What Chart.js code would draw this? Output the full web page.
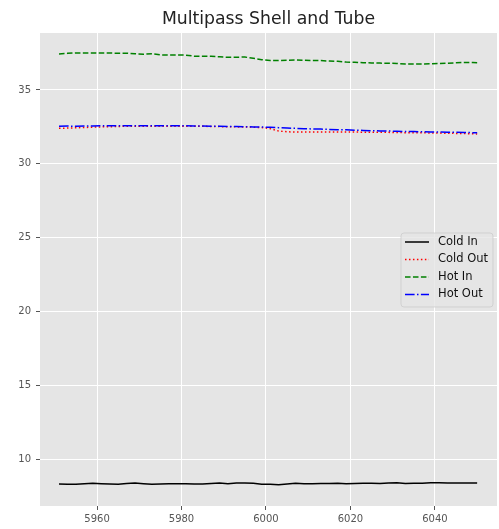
<!DOCTYPE html>
<html>
<head>
<meta charset="utf-8">
<script src="https://cdn.jsdelivr.net/npm/chart.js@4.4.0/dist/chart.umd.min.js"></script>
<style>
  html, body { margin: 0; padding: 0; background: #ffffff; }
  #c { display: block; }
</style>
</head>
<body>
<canvas id="c" width="499" height="529"></canvas>
<script>
const titleText = "Multipass Shell and Tube";
const seriesNames = ["Cold In", "Cold Out", "Hot In", "Hot Out"];
const xValues = [5951,5953,5955,5957,5959,5961,5963,5965,5967,5969,5971,5973,5975,5977,5979,5981,5983,5985,5987,5989,5991,5993,5995,5997,5999,6001,6003,6005,6007,6009,6011,6013,6015,6017,6019,6021,6023,6025,6027,6029,6031,6033,6035,6037,6039,6041,6043,6045,6047,6049,6050];
const coldIn = [8.31,8.30,8.29,8.33,8.36,8.33,8.31,8.30,8.34,8.37,8.33,8.30,8.31,8.32,8.33,8.33,8.31,8.31,8.35,8.37,8.33,8.37,8.38,8.36,8.30,8.29,8.26,8.31,8.36,8.33,8.33,8.35,8.34,8.36,8.33,8.35,8.36,8.36,8.34,8.38,8.40,8.35,8.36,8.36,8.39,8.40,8.37,8.37,8.37,8.38,8.37];
const coldOut = [32.40,32.42,32.44,32.46,32.48,32.50,32.51,32.53,32.54,32.55,32.55,32.55,32.55,32.55,32.55,32.55,32.54,32.54,32.53,32.52,32.51,32.50,32.49,32.48,32.45,32.38,32.22,32.17,32.15,32.15,32.15,32.15,32.15,32.15,32.15,32.15,32.14,32.14,32.13,32.13,32.12,32.11,32.11,32.10,32.09,32.08,32.07,32.06,32.05,32.03,32.02];
const hotIn = [37.44,37.48,37.51,37.51,37.51,37.50,37.50,37.49,37.49,37.45,37.42,37.46,37.38,37.37,37.37,37.36,37.29,37.28,37.28,37.25,37.21,37.22,37.23,37.15,37.05,36.99,36.99,37.02,37.03,37.02,37.00,36.99,36.96,36.94,36.89,36.88,36.85,36.83,36.82,36.81,36.80,36.76,36.76,36.76,36.77,36.79,36.81,36.84,36.87,36.86,36.84];
const hotOut = [32.55,32.56,32.54,32.56,32.56,32.57,32.57,32.58,32.58,32.58,32.58,32.57,32.58,32.57,32.57,32.57,32.56,32.56,32.55,32.54,32.53,32.52,32.51,32.50,32.49,32.47,32.45,32.42,32.40,32.38,32.36,32.35,32.33,32.31,32.30,32.28,32.26,32.24,32.23,32.22,32.20,32.19,32.18,32.17,32.16,32.15,32.14,32.13,32.12,32.11,32.11];
const xTicks = [5960, 5980, 6000, 6020, 6040];
const yTicks = [10, 15, 20, 25, 30, 35];

const toPts = arr => arr.map((v, i) => ({ x: xValues[i], y: v }));
const styles = [
  { color: '#000000', dash: [] },
  { color: '#ff0000', dash: [1.5, 2.475] },
  { color: '#008000', dash: [5.55, 2.4] },
  { color: '#0000ff', dash: [9.6, 2.4, 1.5, 2.4] }
];
const seriesData = [coldIn, coldOut, hotIn, hotOut];

const datasets = seriesData.map((arr, i) => ({
  label: seriesNames[i],
  data: toPts(arr),
  borderColor: styles[i].color,
  borderDash: styles[i].dash,
  borderWidth: 1.5,
  pointRadius: 0,
  tension: 0,
  fill: false,
  order: 4 - i
}));

const FONT = '"DejaVu Sans", sans-serif';

const decor = {
  id: 'decor',
  beforeDraw(chart) {
    const { ctx, chartArea: a } = chart;
    ctx.save();
    ctx.fillStyle = '#e5e5e5';
    ctx.fillRect(a.left, a.top, a.right - a.left, a.bottom - a.top);
    ctx.restore();
  },
  afterDraw(chart) {
    const { ctx, chartArea: a } = chart;
    ctx.save();
    // title
    ctx.fillStyle = '#222222';
    ctx.font = '17.28px ' + FONT;
    ctx.textAlign = 'center';
    ctx.textBaseline = 'middle';
    ctx.fillText(titleText, (a.left + a.right) / 2, 19.5);
    // legend
    const bx = 401, by = 233, bw = 92, bh = 74, r = 3;
    ctx.beginPath();
    ctx.moveTo(bx + r, by);
    ctx.arcTo(bx + bw, by, bx + bw, by + bh, r);
    ctx.arcTo(bx + bw, by + bh, bx, by + bh, r);
    ctx.arcTo(bx, by + bh, bx, by, r);
    ctx.arcTo(bx, by, bx + bw, by, r);
    ctx.closePath();
    ctx.fillStyle = 'rgba(229,229,229,0.8)';
    ctx.fill();
    ctx.strokeStyle = 'rgba(204,204,204,0.8)';
    ctx.lineWidth = 1;
    ctx.stroke();
    const rows = [242, 259.5, 277, 294.5];
    ctx.font = '11.5px ' + FONT;
    ctx.textAlign = 'left';
    ctx.textBaseline = 'middle';
    seriesNames.forEach((name, i) => {
      ctx.beginPath();
      ctx.setLineDash(styles[i].dash);
      ctx.strokeStyle = styles[i].color;
      ctx.lineWidth = 1.5;
      ctx.lineCap = 'butt';
      ctx.moveTo(405, rows[i]);
      ctx.lineTo(429, rows[i]);
      ctx.stroke();
      ctx.setLineDash([]);
      ctx.fillStyle = '#111111';
      ctx.fillText(name, 438, rows[i]);
    });
    ctx.restore();
  }
};

new Chart(document.getElementById('c'), {
  type: 'line',
  data: { datasets },
  plugins: [decor],
  options: {
    responsive: false,
    animation: false,
    devicePixelRatio: 1,
    layout: { padding: { left: 0, right: 2, top: 33, bottom: 0 } },
    plugins: { legend: { display: false }, title: { display: false }, tooltip: { enabled: false } },
    scales: {
      x: {
        type: 'linear',
        min: 5946.5,
        max: 6054.7,
        afterBuildTicks: s => { s.ticks = xTicks.map(v => ({ value: v })); },
        afterFit: s => { s.height = 23; },
        grid: { color: '#ffffff', lineWidth: 1, tickColor: '#555555', tickLength: 4, drawTicks: true },
        border: { display: false },
        ticks: { color: '#555555', font: { family: FONT, size: 10 }, padding: 3, maxRotation: 0, autoSkip: false, callback: v => String(v) }
      },
      y: {
        type: 'linear',
        min: 6.82,
        max: 38.86,
        afterBuildTicks: s => { s.ticks = yTicks.map(v => ({ value: v })); },
        afterFit: s => { s.width = 40; },
        grid: { color: '#ffffff', lineWidth: 1, tickColor: '#555555', tickLength: 4, drawTicks: true },
        border: { display: false },
        ticks: { color: '#555555', font: { family: FONT, size: 10 }, padding: 5, autoSkip: false, callback: v => String(v) }
      }
    }
  }
});
</script>
</body>
</html>
